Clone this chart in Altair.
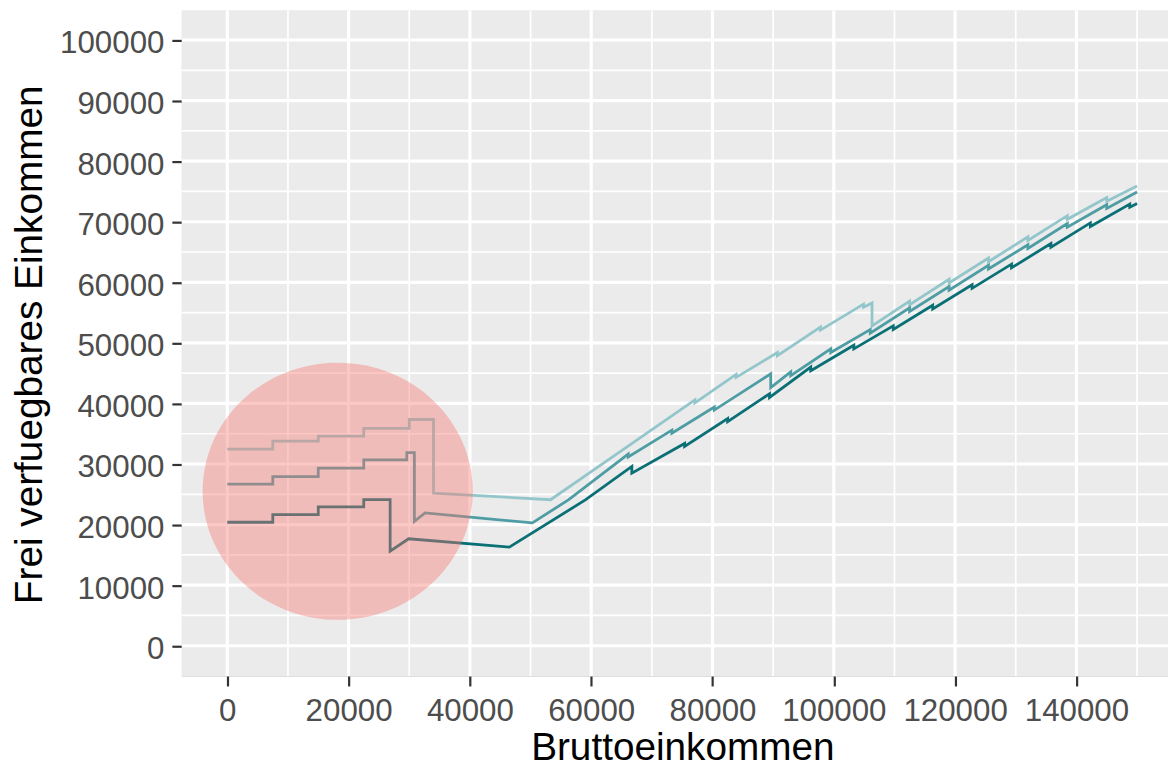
import altair as alt
import pandas as pd

# ---- data ----
x_light = [0, 7500, 7500, 15000, 15000, 22500, 22500, 30000, 30000, 34000, 34000, 53300, 64000,
           77100, 77100, 83900, 83900, 90700, 90700, 97800, 97800, 104900, 104900, 106300, 106300,
           112500, 112500, 119000, 119000, 125500, 125500, 132000, 132000, 138500, 138500, 145000, 145000, 150000]
y_light = [32470, 32470, 33790, 33790, 34610, 34610, 35870, 35870, 37350, 37350, 25200, 24100, 31500,
           40600, 40100, 44800, 44300, 48400, 47900, 52600, 52100, 56400, 55900, 56600, 52800,
           56900, 56300, 60500, 59900, 64000, 63400, 67500, 66900, 71000, 70400, 74000, 73400, 75900]

x_mid = [0, 7500, 7500, 15000, 15000, 22500, 22500, 29600, 29600, 30850, 30850, 32600, 50300, 56300,
         66100, 66100, 73300, 73300, 80300, 80300, 89600, 89600, 92900, 92900, 99500, 99500,
         106000, 106000, 112500, 112500, 119000, 119000, 125500, 125500, 132000, 132000,
         138500, 138500, 145000, 145000, 150000]
y_mid = [26690, 26690, 27930, 27930, 29310, 29310, 30670, 30670, 31870, 31870, 20550, 21930, 20290, 24110,
         31650, 31150, 35590, 35090, 39410, 38910, 44900, 42600, 45200, 44600, 49000, 48400,
         52200, 51600, 55800, 55200, 59300, 58700, 62800, 62200, 66200, 65600,
         69700, 69100, 72800, 72200, 74900]

x_dark = [0, 7500, 7500, 15000, 15000, 22500, 22500, 26850, 26850, 29900, 46500, 59100,
          66700, 66700, 75400, 75400, 82500, 82500, 89400, 89400, 96200, 96200, 103300, 103300,
          109800, 109800, 116300, 116300, 122800, 122800, 129300, 129300, 135800, 135800,
          142300, 142300, 148800, 148800, 150000]
y_dark = [20390, 20390, 21650, 21650, 22910, 22910, 24110, 24110, 15630, 17660, 16290, 24110,
          29600, 28500, 33400, 32900, 37500, 37000, 41600, 41000, 46000, 45400, 49600, 49000,
          52800, 52200, 56200, 55600, 59600, 59000, 63000, 62400, 66400, 65800,
          69800, 69200, 72900, 72400, 73000]

circle_x = [18200]
circle_y = [25500]

x_major = [0, 20000, 40000, 60000, 80000, 100000, 120000, 140000]
x_minor = [10000, 30000, 50000, 70000, 90000, 110000, 130000, 150000]
y_major = [0, 10000, 20000, 30000, 40000, 50000, 60000, 70000, 80000, 90000, 100000]
y_minor = [5000, 15000, 25000, 35000, 45000, 55000, 65000, 75000, 85000, 95000]

FONT = "Liberation Sans"
W, H = 993, 670

xscale = alt.Scale(domain=[-7500, 155100], nice=False, zero=False)
yscale = alt.Scale(domain=[-5000, 104850], nice=False, zero=False)

xaxis = alt.Axis(values=x_major, format="d", grid=False, domain=False,
                 tickSize=10, tickWidth=2.2, tickColor="#333333",
                 labelFont=FONT, labelFontSize=31.5, labelColor="#4D4D4D",
                 labelPadding=9.5, labelFlush=False, labelOverlap=False, labelBound=False,
                 title="Bruttoeinkommen", titleFont=FONT, titleFontSize=39,
                 titleFontWeight="normal", titleColor="black",
                 titleX=504, titleY=84, titleAlign="center", titleBaseline="alphabetic")
yaxis = alt.Axis(values=y_major, format="d", grid=False, domain=False,
                 tickSize=10, tickWidth=2.2, tickColor="#333333",
                 labelFont=FONT, labelFontSize=31.5, labelColor="#4D4D4D",
                 labelPadding=8, labelOffset=4, labelFlush=False, labelOverlap=False, labelBound=False,
                 title="Frei verfuegbares Einkommen", titleFont=FONT, titleFontSize=39,
                 titleFontWeight="normal", titleColor="black", titleAngle=270,
                 titleX=-141, titleY=336, titleAlign="center", titleBaseline="alphabetic")


def X(field):
    return alt.X(field, type="quantitative", scale=xscale, axis=xaxis)


def Y(field):
    return alt.Y(field, type="quantitative", scale=yscale, axis=yaxis)


def line_df(xs, ys):
    return pd.DataFrame({"x": xs, "y": ys, "i": list(range(len(xs)))})


panel = alt.Chart(pd.DataFrame({"p": [0]})).mark_rect(color="#EBEBEB").encode(
    x=alt.value(0), x2=alt.value(W), y=alt.value(0), y2=alt.value(H))

minor_v = alt.Chart(pd.DataFrame({"x": x_minor})).mark_rule(color="white", strokeWidth=1.7).encode(x=X("x"))
minor_h = alt.Chart(pd.DataFrame({"y": y_minor})).mark_rule(color="white", strokeWidth=1.7).encode(y=Y("y"))
major_v = alt.Chart(pd.DataFrame({"x": x_major})).mark_rule(color="white", strokeWidth=3.2).encode(x=X("x"))
major_h = alt.Chart(pd.DataFrame({"y": y_major})).mark_rule(color="white", strokeWidth=3.2).encode(y=Y("y"))


def line_layer(xs, ys, color):
    return alt.Chart(line_df(xs, ys)).mark_line(color=color, strokeWidth=2.8).encode(
        x=X("x"), y=Y("y"), order=alt.Order("i:Q"))


l_light = line_layer(x_light, y_light, "#93C6CB")
l_mid = line_layer(x_mid, y_mid, "#4E9DA4")
l_dark = line_layer(x_dark, y_dark, "#0B6F76")

ELLIPSE = "M-1,0A1,0.952,0,1,0,1,0A1,0.952,0,1,0,-1,0Z"
circle = alt.Chart(pd.DataFrame({"x": circle_x, "y": circle_y})).mark_point(
    shape=ELLIPSE, filled=True, size=73984, color="#F8766D", opacity=0.4, strokeWidth=0
).encode(x=X("x"), y=Y("y"))

chart = alt.layer(panel, minor_v, minor_h, major_v, major_h, l_light, l_mid, l_dark, circle).properties(
    width=W, height=H,
    padding={"left": 175, "top": 0, "right": 0, "bottom": 96},
    autosize=alt.AutoSizeParams(type="none"),
).configure_view(strokeWidth=0).configure(font=FONT)

chart.save("out.html", embed_options={"renderer": "svg", "actions": False})
